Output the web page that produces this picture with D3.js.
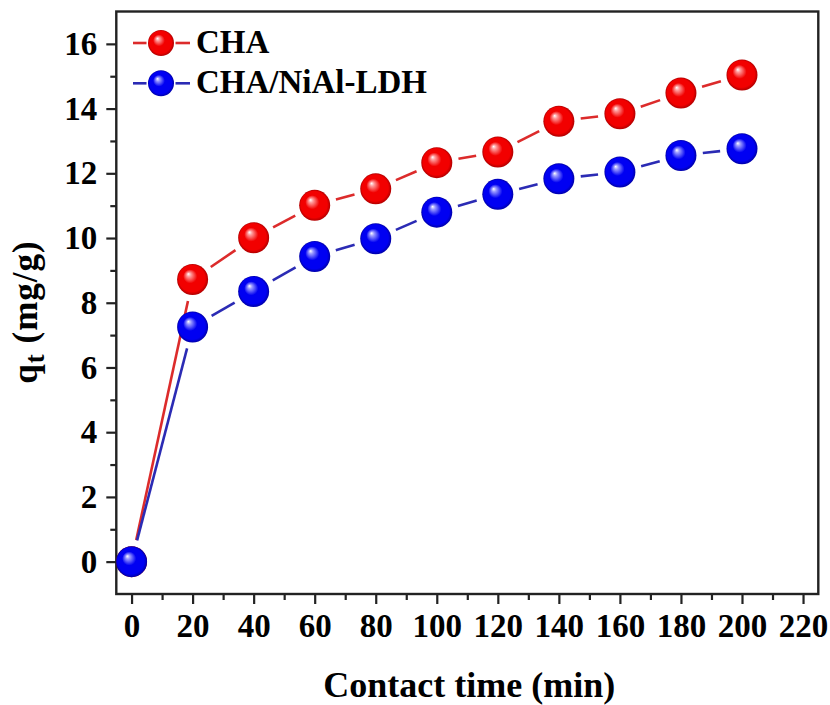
<!DOCTYPE html>
<html>
<head>
<meta charset="utf-8">
<script src="https://cdn.jsdelivr.net/npm/d3@7"></script>
<style>
  body { margin: 0; background: #fff; }
  svg text { font-family: "Liberation Serif", "Times New Roman", serif; font-weight: bold; fill: #000; }
</style>
</head>
<body>
<svg class="chart"></svg>
<script>
// contact time (min)
var times = [0, 20, 40, 60, 80, 100, 120, 140, 160, 180, 200];
// qt (mg/g) for each series
var qtCHA = [0, 8.72, 10.01, 11.01, 11.52, 12.33, 12.66, 13.61, 13.84, 14.48, 15.04];
var qtLDH = [0, 7.25, 8.35, 9.43, 9.98, 10.80, 11.35, 11.83, 12.04, 12.55, 12.76];
var seriesNames = ["CHA", "CHA/NiAl-LDH"];
var xTicks = [0, 20, 40, 60, 80, 100, 120, 140, 160, 180, 200, 220];
var yTicks = [0, 2, 4, 6, 8, 10, 12, 14, 16];

var width = 830, height = 705;
var plotLeft = 116.3, plotRight = 818.3, plotTop = 11.5, plotBottom = 594;

var svg = d3.select(".chart")
	.attr("width", width)
	.attr("height", height);

var x = d3.scaleLinear().domain([-5, 225]).range([plotLeft, plotRight]);
var y = d3.scaleLinear().domain([-1, 17]).range([plotBottom, plotTop]);

//gradients for the shiny balls
var defs = svg.append("defs");
function ball(id, light, main, dark){
	var g = defs.append("radialGradient")
		.attr("id", id)
		.attr("cx", "50%").attr("cy", "50%").attr("r", "50%")
		.attr("fx", "36%").attr("fy", "32%");
	g.append("stop").attr("offset", "0%").attr("stop-color", "#ffffff");
	g.append("stop").attr("offset", "14%").attr("stop-color", light);
	g.append("stop").attr("offset", "45%").attr("stop-color", main);
	g.append("stop").attr("offset", "85%").attr("stop-color", main);
	g.append("stop").attr("offset", "100%").attr("stop-color", dark);
}
ball("ballRed", "#ff9a9a", "#f20000", "#b00000");
ball("ballBlue", "#9a9aff", "#0000f2", "#0000a8");

var series = [
	{ name: seriesNames[0], values: qtCHA, line: "#dc2b2b", fill: "url(#ballRed)" },
	{ name: seriesNames[1], values: qtLDH, line: "#2b2bb4", fill: "url(#ballBlue)" }
];

var r = 15.5, gap = 22;

//axes: minor ticks first, then major ticks with labels
var xMinor = d3.range(10, 220, 20);
var yMinor = d3.range(1, 17, 2);

svg.append("g")
	.attr("transform", "translate(0," + plotBottom + ")")
	.call(d3.axisBottom(x).tickValues(xMinor).tickSize(6).tickFormat(""));
var xMajor = svg.append("g")
	.attr("transform", "translate(0," + plotBottom + ")")
	.call(d3.axisBottom(x).tickValues(xTicks).tickSize(10).tickPadding(10).tickFormat(d3.format("d")));
xMajor.selectAll("text").style("font-size", "33px");

svg.append("g")
	.attr("transform", "translate(" + plotLeft + ",0)")
	.call(d3.axisLeft(y).tickValues(yMinor).tickSize(6).tickFormat(""));
var yMajor = svg.append("g")
	.attr("transform", "translate(" + plotLeft + ",0)")
	.call(d3.axisLeft(y).tickValues(yTicks).tickSize(10).tickPadding(9).tickFormat(d3.format("d")));
yMajor.selectAll("text").style("font-size", "33px");

svg.selectAll(".domain").remove();
svg.selectAll(".tick line").attr("stroke", "#222").attr("stroke-width", 2.2);

//frame
svg.append("rect")
	.attr("x", plotLeft).attr("y", plotTop)
	.attr("width", plotRight - plotLeft).attr("height", plotBottom - plotTop)
	.attr("fill", "none")
	.attr("stroke", "#222")
	.attr("stroke-width", 2.4);

function trim(a, b){
	var dx = b[0] - a[0], dy = b[1] - a[1];
	var len = Math.sqrt(dx * dx + dy * dy);
	var ux = dx / len, uy = dy / len;
	return { x1: a[0] + ux * gap, y1: a[1] + uy * gap, x2: b[0] - ux * gap, y2: b[1] - uy * gap };
}

//lines with a gap to each symbol, then the symbols
series.forEach(function(s){
	var pts = times.map(function(t, i){ return [x(t), y(s.values[i])]; });
	svg.append("g").selectAll("line")
		.data(d3.pairs(pts).map(function(p){ return trim(p[0], p[1]); }))
		.enter()
		.append("line")
		.attr("x1", function(d){ return d.x1; })
		.attr("y1", function(d){ return d.y1; })
		.attr("x2", function(d){ return d.x2; })
		.attr("y2", function(d){ return d.y2; })
		.attr("stroke", s.line)
		.attr("stroke-width", 2.6);
});
series.forEach(function(s){
	svg.append("g").selectAll("circle")
		.data(times)
		.enter()
		.append("circle")
		.attr("cx", function(d){ return x(d); })
		.attr("cy", function(d, i){ return y(s.values[i]); })
		.attr("r", r)
		.attr("fill", s.fill);
});

//legend
var legend = svg.append("g").attr("transform", "translate(161,43)");
series.forEach(function(s, i){
	var g = legend.append("g").attr("transform", "translate(0," + (i * 40.3) + ")");
	g.append("line").attr("x1", -28).attr("x2", -14.5).attr("stroke", s.line).attr("stroke-width", 2.6);
	g.append("line").attr("x1", 14.5).attr("x2", 29).attr("stroke", s.line).attr("stroke-width", 2.6);
	g.append("circle").attr("r", 13).attr("fill", s.fill);
	g.append("text")
		.attr("x", 35)
		.attr("y", 9.5)
		.style("font-size", "33px")
		.text(s.name);
});

//axis titles
svg.append("text")
	.attr("x", (plotLeft + plotRight) / 2 + 2)
	.attr("y", 697)
	.attr("text-anchor", "middle")
	.style("font-size", "36px")
	.text("Contact time (min)");

var yTitle = svg.append("text")
	.attr("transform", "translate(37," + 312 + ") rotate(-90)")
	.attr("text-anchor", "middle")
	.style("font-size", "35px")
	.style("letter-spacing", "1px");
yTitle.append("tspan").text("q");
yTitle.append("tspan").attr("dy", 7).style("font-size", "27px").text("t");
yTitle.append("tspan").attr("dy", -7).text(" (mg/g)");
</script>
</body>
</html>
